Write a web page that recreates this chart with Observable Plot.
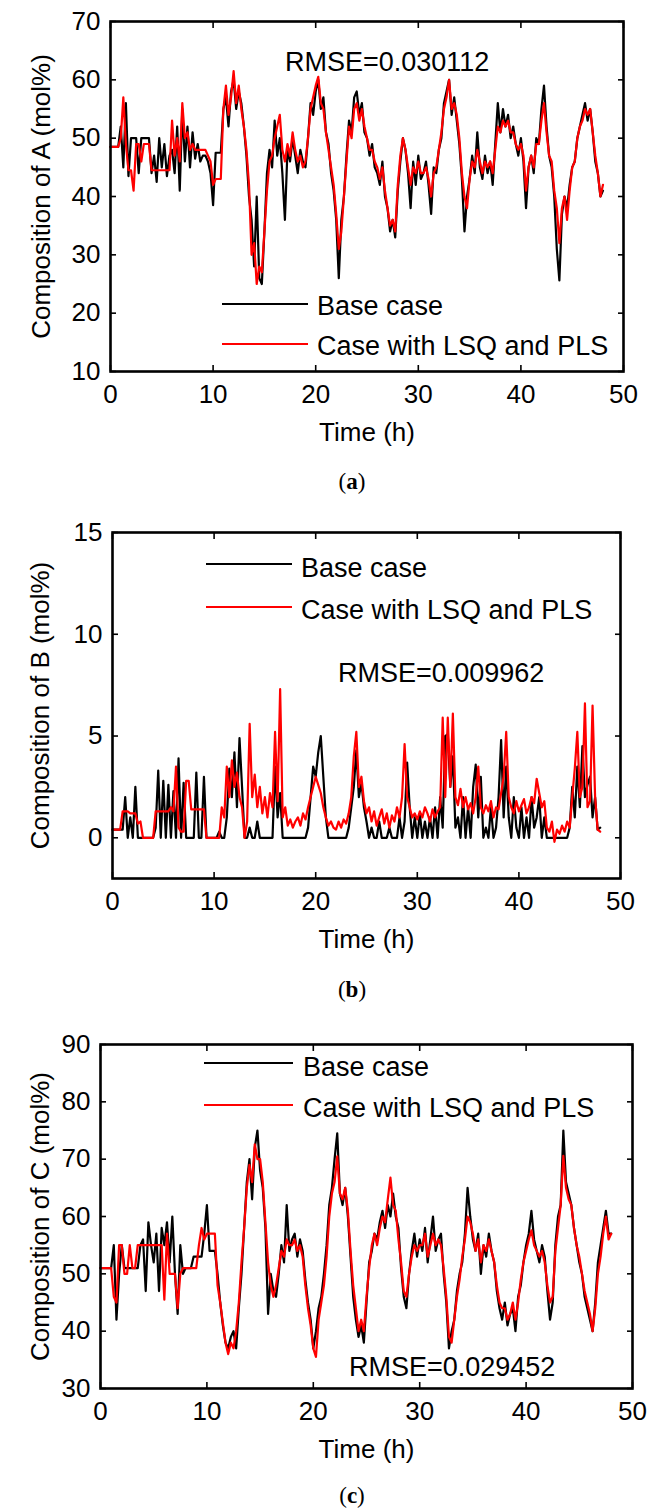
<!DOCTYPE html>
<html><head><meta charset="utf-8">
<script src="https://cdn.jsdelivr.net/npm/d3@7"></script>
<script src="https://cdn.jsdelivr.net/npm/@observablehq/plot@0.6"></script>
<style>
body{margin:0;background:#fff;}
#page{position:relative;width:649px;height:1512px;overflow:hidden;font-family:"Liberation Sans",Arial,sans-serif;background:#fff;}
.panel{position:absolute;left:0;}
.leg{position:absolute;height:0;border-top:2px solid #000;}
.txt{position:absolute;font-size:27px;line-height:1;white-space:nowrap;color:#000;transform:translateY(-50%);}
.cap{position:absolute;font-family:"Liberation Serif",serif;font-size:23px;line-height:1;white-space:nowrap;transform:translate(-50%,-50%);}
</style></head><body><div id="page"></div><script>
// sampling step of the traces (hours)
const sampleStep = 0.25;
const xTicks = [0, 10, 20, 30, 40, 50];

// ---- (a) Composition of A (mol%) ----
const compA_base = [
48.5,48.5,48.5,48.5, 52,45,56,43.5, 50,50,50,44, 50,50,50,50, 44,47,42.5,50, 45,49,43.5,47,
48,44,52,41, 55,46,52,45, 51,46.5,49,46, 47,47,46,44, 38.5,47.5,47.5,47.5, 55,57,52,58,
60,55,58,56, 52,47,40,36, 28,40,26,25, 34,44,48,45, 53,47,50,44, 36,48,46,50,
47,44,48,46, 45,50,56,54, 58,60,55,57, 51,49,44,41, 36,26,36,40, 47,53,51,57,
58,54,56,51, 50,47,49,45, 44,42,46,40, 38,34,36,33, 41,46,50,48, 44,38,46,42,
47,43,44,46, 42,37,45,44, 48,50,56,58, 60,54,57,53, 49,43,34,40, 43,47,44,51,
45,43,47,44, 46,42,49,56, 51,55,52,54, 50,52,49,47, 50,46,38,45, 47,44,50,49,
55,59,52,47, 45,40,31,25.6, 37,40,38,42, 45,46,50,52, 54,56,53,55, 51,46,44,40, 41];
const compA_pls = [
48.5,48.5,48.5,48.5, 50,57,49,44.5, 44.5,41,49,49, 46,49,49,49, 44.5,44.5,44.5,44.5, 44.5,44.5,44.5,44.5,
53,47,50,46, 56,50,51,48, 49,48,48,48, 48,48,47,46, 42,43,43,43, 55,59,54,57,
61.5,56,59,55, 52,48,42,30, 32,25,28,27, 34,41,46,47, 50,52,54,48, 46,49,47,51,
48,46,47,45, 46,50,55,57, 59,60.5,56,55, 51,48,45,42, 37,31,34,40, 46,52,50,55,
56,53,55,52, 50,48,48,46, 45,43,45,41, 38,35,36,34, 42,47,50,48, 45,42,45,44,
46,44,44,45, 43,40,44,45, 48,51,55,57, 60,55,56,54, 50,44,40,38, 43,46,45,48,
46,44,46,45, 46,44,48,52, 51,53,52,53, 51,51,49,48, 49,47,41,45, 47,45,49,49,
53,56,51,47, 46,41,38,32, 38,40,36,41, 45,46,50,52, 53,55,54,55, 51,47,44,40, 42];

// ---- (b) Composition of B (mol%) ----
const compB_base = [
0.4,0.4,0.4,0.4, 0.4,2.0,0,1.0, 0,2.5,0,0, 0,0,0,0, 0,0.5,3.3,0, 2.8,0,2.6,0,
2.3,0,3.9,0, 2.7,0,0,0, 0,3.2,0,0, 3.0,0,0,0, 0,0,0.3,0, 0,1.0,3.4,2.0,
4.2,1.5,4.9,2.5, 0,0,0.5,0, 0,0.8,0,0, 0,0,0,0, 3.5,1.0,2.2,0, 0,0,0,0,
0,0,0,0, 0,0.5,2.0,3.5, 3.0,4.2,5.0,3.0, 1.0,0,0,0, 0,0,0,0, 0,0.5,1.5,2.5,
4.3,2.0,2.7,1.5, 0.8,0,0.5,0, 0,0.8,0,0, 0,0.5,0,0, 0,1.0,0,0.8, 3.7,1.5,0,1.0,
0,1.2,0,0.8, 0,1.0,0,1.5, 0,2.0,0.5,5.0, 5.1,2.5,4.0,0.5, 1.0,0,2.0,0, 1.5,0,2.5,3.6,
1.0,3.0,0,0.5, 0,1.5,0,0.5, 2.0,4.8,1.0,3.5, 1.0,0,2.0,0.5, 0,1.5,0,1.0, 0,2.0,0.5,1.0,
2.0,0,1.0,0, 0,0,0,0, 0,0,0,0, 0.5,2.5,1.0,3.5, 1.5,4.5,2.0,2.6, 3.0,1.0,2.0,0.4, 0.5];
const compB_pls = [
0.4,0.4,0.4,0.4, 1.3,1.3,1.3,1.2, 1.2,1.2,0.7,0.8, 0,0,0,0, 0,1.3,1.3,1.3, 1.3,1.3,1.3,1.5,
1.3,3.5,0.5,0.3, 0.3,2.8,2.8,1.4, 1.4,1.4,1.4,1.4, 1.4,0,0,0, 0,0,0,1.5, 1.0,3.5,2.0,3.8,
2.5,3.2,2.0,1.5, 0,0.8,5.6,2.0, 3.1,1.5,2.5,1.2, 2.0,1.0,2.2,1.5, 5.2,1.8,7.3,1.0, 1.5,0.6,0.9,0.5,
0.8,1.0,0.6,1.2, 0.9,1.5,2.0,2.5, 3.0,2.6,2.2,1.5, 1.0,0.6,0.8,0.5, 0.4,0.8,0.5,0.9, 0.7,1.2,2.0,4.0,
5.2,2.5,3.0,1.8, 1.2,1.5,0.8,1.3, 0.6,1.0,1.4,0.7, 1.2,0.5,1.1,0.8, 1.5,1.0,2.0,4.6, 2.0,1.5,1.0,1.2,
0.9,1.3,1.0,1.5, 1.2,0.8,1.4,1.0, 1.3,1.5,5.9,2.0, 5.9,2.5,6.1,2.0, 1.6,2.4,1.5,2.0, 1.4,1.7,1.2,2.0,
3.5,1.5,1.2,1.6, 1.3,1.8,1.0,1.5, 1.4,2.2,3.0,5.2, 2.0,1.5,1.2,1.8, 1.3,1.6,1.9,1.2, 1.5,2.0,1.7,2.9,
2.2,1.5,1.8,0.5, 0.3,0.8,-0.2,0.4, 0.2,0.6,0.3,0.8, 0.5,2.0,3.4,5.2, 2.0,2.5,6.6,1.5, 1.8,6.5,2.0,0.4, 0.3];

// ---- (c) Composition of C (mol%) ----
const compC_base = [
51,51,51,51, 51,55,42,50, 55,51,51,51, 51,51,51,55, 56,47,59,55, 52,57,47,58,
55,59,52,60, 50,43,55,50, 51,51,51,53, 53,53,53,57, 62,54,54,54, 50,45,41,38,
37,39,40,37, 44,50,58,66, 70,63,72,75, 68,65,58,43, 50,47,46,50, 55,52,62,54,
56,57,53,56, 54,49,45,42, 37,40,44,46, 50,55,62,65, 70,74.5,64,62, 65,60,53,46,
42,39,41,38, 45,52,54,57, 56,59,61,58, 62,60,64,60, 58,51,46,44, 50,54,57,53,
56,54,58,52, 56,60,54,56, 57,50,45,37, 40,42,47,50, 52,57,65,60, 56,54,57,50,
55,53,57,54, 52,47,44,42, 45,41,43,44, 40,46,48,52, 55,57,61,56, 54,52,55,53,
47,42,45,55, 60,62,75,66, 64,62,58,55, 52,50,46,44, 42,40,45,52, 55,58,61,57, 57];
const compC_pls = [
51,51,51,51, 51,46,45,55, 55,50,50,55, 51,51,55,55, 55,55,55,55, 55,55,55,55,
45.5,57,50,50, 50,44,50,51, 51,51,51,51, 51,55,58,56, 57,57,57,57, 48,45,41.5,38,
36,38,37,40, 45,52,58,65, 69,66,72.6,70, 70,66,59,52, 48,46,48,51, 54,53,56,55,
55,56,54,55, 53,48,44,41, 37,35.5,42,45, 48,53,60,64, 66,70.5,64,63, 65,61,54,48,
44,40,42,40, 46,51,55,57, 55,58,60,59, 63,66.8,62,61, 56,52,47,46, 50,53,55,54,
55,55,57,53, 55,57,55,56, 55,51,46,39, 38,42,46,49, 53,56,60,59, 57,54,56,52,
55,54,56,54, 52,48,45,44, 44,42,43,45, 42,45,49,52, 54,56,57.6,55, 54,53,54,52,
48,45,46,54, 58,62,70.6,65, 63,62,58,55, 53,50,47,45, 43,40,44,50, 53,57,60,56, 57];

const legendLabels = ["Base case", "Case with LSQ and PLS"];
const rmseLabels = ["RMSE=0.030112", "RMSE=0.009962", "RMSE=0.029452"];

const page = document.getElementById("page");

function addDiv(cls, css, html) {
  const d = document.createElement("div");
  d.className = cls;
  Object.assign(d.style, css);
  if (html != null) d.innerHTML = html;
  page.appendChild(d);
  return d;
}

function panel(o) {
  const rows = o.base.map((v, i) => ({t: i * sampleStep, base: v, pls: o.pls[i]}));
  const svg = Plot.plot({
    width: 649, height: o.height,
    marginLeft: o.mL, marginRight: o.mR, marginTop: o.mT, marginBottom: o.mB,
    style: {fontFamily: "'Liberation Sans', Arial, sans-serif", fontSize: "26px", color: "#000", background: "transparent", overflow: "visible"},
    x: {domain: [0, 50], axis: null},
    y: {domain: o.yDomain, axis: null},
    marks: [
      Plot.lineY(rows, {x: "t", y: "base", stroke: "#000", strokeWidth: 2.2}),
      Plot.lineY(rows, {x: "t", y: "pls", stroke: "#ff0000", strokeWidth: 2.2}),
      Plot.axisX({anchor: "bottom", ticks: xTicks, tickSize: -6, tickPadding: 19, strokeWidth: 1.6, tickFormat: d => String(d), label: null}),
      Plot.axisX({anchor: "top", ticks: xTicks, tickSize: -6, strokeWidth: 1.6, tickFormat: () => "", label: null}),
      Plot.axisY({anchor: "left", ticks: o.yTicks, tickSize: -6, tickPadding: 16, strokeWidth: 1.6, tickFormat: d => String(d), label: null}),
      Plot.axisY({anchor: "right", ticks: o.yTicks, tickSize: -6, strokeWidth: 1.6, tickFormat: () => "", label: null}),
      Plot.frame({stroke: "#000", strokeWidth: 2.6}),
      Plot.text(["Time (h)"], {frameAnchor: "bottom", dy: 61, text: d => d, lineAnchor: "middle", textAnchor: "middle", fontSize: 26}),
      Plot.text([o.ylabel], {frameAnchor: "left", dx: o.ylabDx, rotate: -90, text: d => d, lineAnchor: "middle", textAnchor: "middle", fontSize: 26})
    ]
  });
  svg.classList.add("panel");
  svg.style.top = o.top + "px";
  page.appendChild(svg);

  // legend
  addDiv("leg", {left: o.leg.x0 + "px", width: (o.leg.x1 - o.leg.x0) + "px", top: (o.leg.y0 - 1) + "px", borderTopColor: "#000"});
  addDiv("leg", {left: o.leg.x0 + "px", width: (o.leg.x1 - o.leg.x0) + "px", top: (o.leg.y1 - 1) + "px", borderTopColor: "#ff0000"});
  addDiv("txt", {left: o.leg.tx + "px", top: o.leg.ty0 + "px"}, legendLabels[0]);
  addDiv("txt", {left: o.leg.tx + "px", top: o.leg.ty1 + "px"}, legendLabels[1]);
  addDiv("txt", {left: o.rmse.x + "px", top: o.rmse.y + "px"}, o.rmseText);
  addDiv("cap", {left: o.cap.x + "px", top: o.cap.y + "px"}, "(<b>" + o.capLetter + "</b>)");
}

panel({top: 0, height: 460, mL: 110, mR: 26, mT: 21, mB: 89,
  yDomain: [10, 70], yTicks: [10, 20, 30, 40, 50, 60, 70],
  base: compA_base, pls: compA_pls, ylabel: "Composition of A (mol%)", ylabDx: -69,
  leg: {x0: 222, x1: 308, y0: 304, y1: 344, tx: 317, ty0: 306, ty1: 346},
  rmse: {x: 285, y: 62}, rmseText: rmseLabels[0],
  cap: {x: 352, y: 481}, capLetter: "a"});

panel({top: 511, height: 460, mL: 112, mR: 29, mT: 21, mB: 93,
  yDomain: [-2, 15], yTicks: [0, 5, 10, 15],
  base: compB_base, pls: compB_pls, ylabel: "Composition of B (mol%)", ylabDx: -72,
  leg: {x0: 206, x1: 292, y0: 564, y1: 607, tx: 301, ty0: 568, ty1: 610},
  rmse: {x: 338, y: 673}, rmseText: rmseLabels[1],
  cap: {x: 352, y: 989}, capLetter: "b"});

panel({top: 1023, height: 460, mL: 100, mR: 17, mT: 21, mB: 95,
  yDomain: [30, 90], yTicks: [30, 40, 50, 60, 70, 80, 90],
  base: compC_base, pls: compC_pls, ylabel: "Composition of C (mol%)", ylabDx: -60,
  leg: {x0: 204, x1: 293, y0: 1063, y1: 1105, tx: 303, ty0: 1067, ty1: 1108},
  rmse: {x: 349, y: 1367}, rmseText: rmseLabels[2],
  cap: {x: 352, y: 1495}, capLetter: "c"});
</script></body></html>
